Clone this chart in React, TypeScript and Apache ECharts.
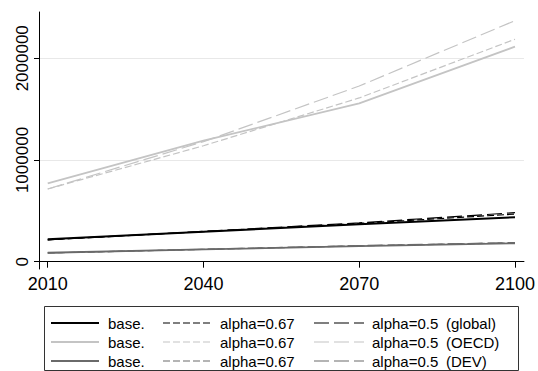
import React, { useEffect, useRef } from "react";
import * as echarts from "echarts";

const years = [2010, 2040, 2070, 2100];
const xTicks = [2010, 2040, 2070, 2100];
const yTicks = [0, 1000000, 2000000];

const globalBase = [220000, 294000, 368000, 437000];
const globalA067 = [215000, 296000, 376000, 468000];
const globalA05 = [215000, 298000, 382000, 482000];
const oecdBase = [771000, 1190000, 1557000, 2114000];
const oecdA067 = [715000, 1140000, 1610000, 2187000];
const oecdA05 = [715000, 1180000, 1727000, 2370000];
const devBase = [88000, 121000, 153000, 181000];
const devA067 = [86000, 121000, 156000, 185000];
const devA05 = [86000, 122000, 158000, 188000];

const legendCol1 = ["base.", "base.", "base."];
const legendCol2 = ["alpha=0.67", "alpha=0.67", "alpha=0.67"];
const legendCol3 = ["alpha=0.5", "alpha=0.5", "alpha=0.5"];
const legendGroups = ["(global)", "(OECD)", "(DEV)"];

const BLACK = "#000000";
const LIGHT = "#c4c4c4";
const DARK = "#6a6a6a";
const SHORT: number[] = [7, 3];
const LONG: number[] = [15, 5];

const FONT = "'Liberation Sans', Arial, sans-serif";

function pts(vals: number[]) {
  return years.map((y, i) => [y, vals[i]]);
}

export default function App() {
  const ref = useRef<HTMLDivElement>(null);
  useEffect(() => {
    if (!ref.current) return;
    const chart = echarts.init(ref.current, undefined, { renderer: "svg" });

    const mk = (name: string, vals: number[], color: string, type: any, width: number, z: number) => ({
      name,
      type: "line",
      data: pts(vals),
      symbol: "none",
      silent: true,
      z,
      lineStyle: { color, width, type },
    });

    const series = [
      mk("OECD base", oecdBase, LIGHT, "solid", 1.8, 3),
      mk("OECD a067", oecdA067, LIGHT, SHORT, 1.2, 3),
      mk("OECD a05", oecdA05, LIGHT, LONG, 1.2, 3),
      mk("DEV base", devBase, DARK, "solid", 1.8, 3),
      mk("DEV a067", devA067, DARK, SHORT, 1.2, 3),
      mk("DEV a05", devA05, DARK, LONG, 1.2, 3),
      mk("global base", globalBase, BLACK, "solid", 2, 4),
      mk("global a067", globalA067, BLACK, SHORT, 1.2, 4),
      mk("global a05", globalA05, BLACK, LONG, 1.2, 4),
    ];

    const rowsY = [323, 342, 361];
    const colors = [BLACK, LIGHT, DARK];
    const graphics: any[] = [
      {
        type: "rect",
        shape: { x: 44.5, y: 306.5, width: 474, height: 64 },
        style: { fill: "#fff", stroke: "#333", lineWidth: 1 },
        z: 10,
      },
    ];
    rowsY.forEach((ry, i) => {
      const c = colors[i];
      const w = i === 0 ? 2 : 1.8;
      const txt = (x: number, t: string) => ({
        type: "text",
        x,
        y: ry,
        style: { text: t, fontSize: 15, fontFamily: FONT, fill: "#000", verticalAlign: "middle" },
        z: 11,
      });
      graphics.push(
        { type: "line", shape: { x1: 51, y1: ry, x2: 99, y2: ry }, style: { stroke: c, lineWidth: w }, z: 11 },
        { type: "line", shape: { x1: 163, y1: ry, x2: 212, y2: ry }, style: { stroke: c, lineWidth: 1.2, lineDash: SHORT }, z: 11 },
        { type: "line", shape: { x1: 314, y1: ry, x2: 364, y2: ry }, style: { stroke: c, lineWidth: 1.2, lineDash: LONG }, z: 11 },
        txt(108, legendCol1[i]),
        txt(220, legendCol2[i]),
        txt(372, legendCol3[i]),
        txt(446, legendGroups[i])
      );
    });

    chart.setOption({
      animation: false,
      backgroundColor: "#ffffff",
      grid: { left: 39, right: 14, top: 12, bottom: 102, containLabel: false },
      xAxis: {
        type: "value",
        min: 2008.32,
        max: 2101.73,
        axisLine: { show: true, lineStyle: { color: "#000", width: 1 } },
        axisTick: { show: true, length: 6, customValues: xTicks, lineStyle: { color: "#000" } },
        axisLabel: {
          customValues: xTicks,
          formatter: (v: number) => String(v),
          fontSize: 18,
          fontFamily: FONT,
          color: "#000",
          margin: 6,
        },
        splitLine: { show: false },
      },
      yAxis: {
        type: "value",
        min: -71800,
        max: 2455000,
        axisLine: { show: true, lineStyle: { color: "#000", width: 1 } },
        axisTick: { show: true, length: 5, customValues: yTicks, lineStyle: { color: "#000" } },
        axisLabel: {
          customValues: yTicks,
          formatter: (v: number) => String(v),
          rotate: 90,
          fontSize: 17,
          fontFamily: FONT,
          color: "#000",
          margin: 8,
        },
        splitLine: { show: true, lineStyle: { color: "#e8e8e8", width: 1 } },
      },
      series,
      graphic: graphics,
    });
    return () => chart.dispose();
  }, []);
  return <div ref={ref} style={{ width: 538, height: 371, position: "absolute", left: 0, top: 0 }} />;
}
